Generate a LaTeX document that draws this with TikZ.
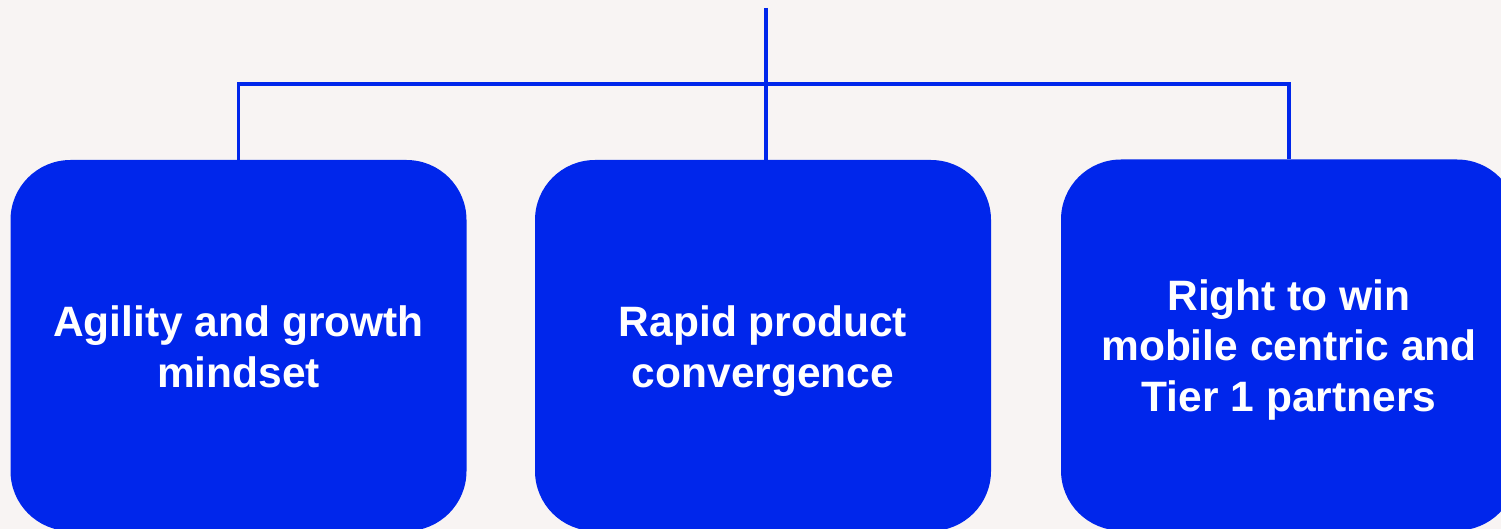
\documentclass[tikz,border=0pt]{standalone}
\usepackage{fontspec}
\setmainfont{Liberation Sans}
\definecolor{bgpaper}{HTML}{F8F4F3}
\definecolor{royal}{HTML}{0026EB}
\begin{document}
\begin{tikzpicture}[x=1pt,y=-1pt,
  pillar/.style={fill=royal, draw=none, rounded corners=60pt,
    minimum width=456pt, minimum height=371pt, inner sep=0pt},
  caption/.style={text=white, align=center, inner sep=0pt,
    font=\fontsize{42.5}{50.5}\selectfont\bfseries},
  link/.style={draw=royal, line width=3.6pt}]
  \fill[bgpaper] (0,0) rectangle (1501,529);
  \useasboundingbox (0,0) rectangle (1501,529);
  \clip (0,0) rectangle (1501,529);
  % three pillars
  \node[pillar] (b1) at (238.5,345.5) {};
  \node[pillar] (b2) at (763,345.5) {};
  \node[pillar] (b3) at (1289,345) {};
  % pillar captions
  \node[caption] (t1) at ([yshift=-6.5pt]b1.center) {\strut Agility and growth\\mindset\strut};
  \node[caption] (t2) at ([yshift=-6.5pt]b2.center) {\strut Rapid product\\convergence\strut};
  \node[caption] (t3) at ([yshift=-5.5pt]b3.center) {\strut Right to win\\mobile centric and\\Tier 1 partners\strut};
  % tree connectors
  \coordinate (top) at (766,8);
  \coordinate (hub) at (766,84);
  \draw[link] (top) -- (top |- b2.north);
  \draw[link] (b1.north) |- (hub) -| (b3.north);
\end{tikzpicture}
\end{document}
